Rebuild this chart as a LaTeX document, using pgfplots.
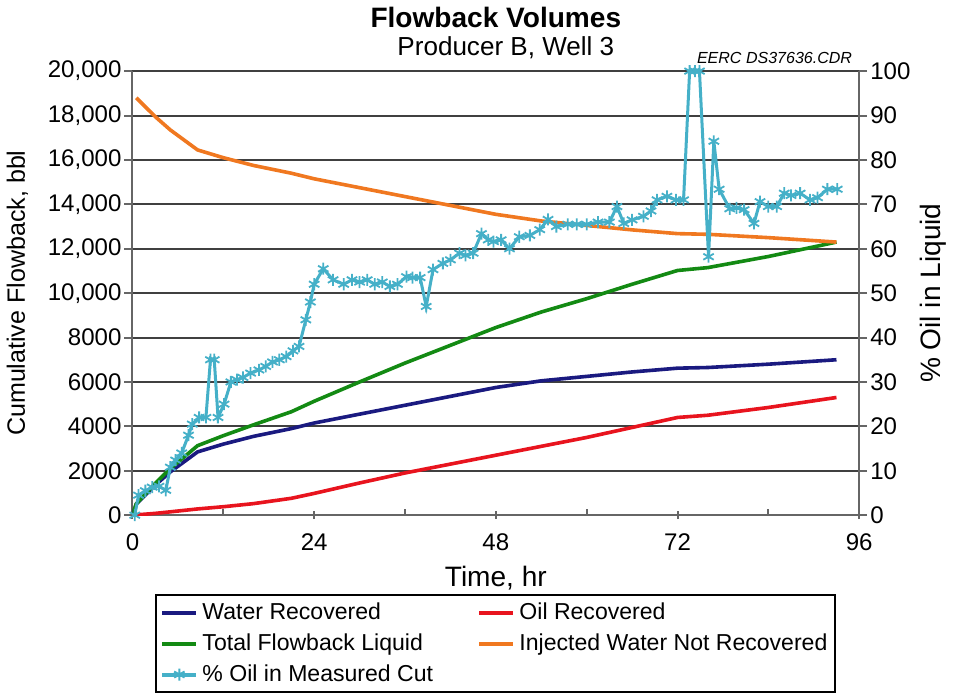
\documentclass[border=0pt]{standalone}
\usepackage{pgfplots}
\pgfplotsset{compat=1.18}
\usepackage{fontspec}
\setmainfont{Liberation Sans}

\definecolor{cwater}{HTML}{1A1A80}
\definecolor{coil}{HTML}{E8141E}
\definecolor{ctotal}{HTML}{138A13}
\definecolor{cinj}{HTML}{F07820}
\definecolor{ccut}{HTML}{45B0C8}

\begin{document}
\begin{tikzpicture}
  \pgfplotsset{
    common/.style={
      scale only axis,
      width=362.5pt, height=221.5pt,
      xmin=0, xmax=96,
      tick label style={font=\fontsize{12}{14}\selectfont},
      /pgf/number format/assume math mode=true,
      scaled ticks=false,
      tick style={black!60, line width=1pt},
      major tick length=4pt,
      axis line style={black!60, line width=1pt},
    },
  }
  \begin{axis}[
      common,
      name=main,
      axis y line*=left,
      axis x line*=bottom,
      ymin=0, ymax=20000,
      ytick={0,2000,4000,6000,8000,10000,12000,14000,16000,18000,20000},
      yticklabels={0,2000,4000,6000,8000,{10,000},{12,000},{14,000},{16,000},{18,000},{20,000}},
      xtick={0,24,48,72,96},
      minor xtick={12,36,60,84},
      minor tick length=3pt,
      tick align=center,
      ytick style={xshift=-2pt},
      every minor tick/.append style={yshift=1.5pt},
      xticklabel style={yshift=-3.5pt},
      ymajorgrids,
      grid style={black!75, line width=1pt},
      xlabel={Time, hr},
      ylabel={Cumulative Flowback, bbl},
      xlabel style={font=\fontsize{14}{16}\selectfont, yshift=-1pt},
      ylabel style={font=\fontsize{12.5}{15}\selectfont, yshift=3pt},
      legend style={at={(0.5,-0.178)}, anchor=north, legend columns=2,
        font=\fontsize{11.5}{13}\selectfont, draw=black, line width=1pt,
        /tikz/every even column/.append style={column sep=20pt},
        row sep=1.5pt, inner sep=2pt},
      legend cell align=left,
      legend image post style={line width=2pt},
    ]
    \addplot[cwater, line width=1.8pt] coordinates {
      (0,0) (0.5,500) (3,1350) (5,1950) (8.6,2850) (12,3200) (16,3550) (21,3900)
      (24,4150) (30,4550) (36,4950) (42,5350) (48,5750) (54,6050) (60,6250)
      (66,6450) (72,6620) (76,6650) (84,6800) (93,7000)
    };
    \addlegendentry{Water Recovered}
    \addplot[coil, line width=1.8pt] coordinates {
      (0,0) (3,80) (5,150) (8.6,280) (12,380) (16,520) (21,760) (24,980)
      (30,1450) (36,1900) (42,2300) (48,2700) (54,3100) (60,3500) (66,3950)
      (72,4400) (76,4500) (84,4850) (93,5300)
    };
    \addlegendentry{Oil Recovered}
    \addplot[ctotal, line width=1.8pt] coordinates {
      (0,0) (0.5,510) (3,1430) (5,2100) (8.6,3130) (12,3580) (16,4070) (21,4660)
      (24,5130) (30,6000) (36,6850) (42,7650) (48,8450) (54,9150) (60,9750)
      (66,10400) (72,11020) (76,11150) (84,11650) (93,12300)
    };
    \addlegendentry{Total Flowback Liquid}
    \addplot[cinj, line width=1.8pt] coordinates {
      (0.5,18800) (3,17950) (5,17350) (8.6,16450) (12,16100) (16,15750) (21,15400)
      (24,15150) (30,14750) (36,14350) (42,13950) (48,13550) (54,13250) (60,13050)
      (66,12850) (72,12680) (76,12650) (84,12500) (93,12300)
    };
    \addlegendentry{Injected Water Not Recovered}
    \addlegendimage{ccut, line width=1.5pt, mark=asterisk, mark size=3pt, mark options={line width=1pt}}
    \addlegendentry{\% Oil in Measured Cut}
  \end{axis}
  \begin{axis}[
      common,
      axis y line*=right,
      axis x line=none,
      ymin=0, ymax=100,
      ytick={0,10,...,100},
      tick align=center,
      ytick style={xshift=2pt},
      ylabel={\% Oil in Liquid},
      ylabel style={font=\fontsize{14}{16}\selectfont, yshift=2pt},
    ]
    \addplot[ccut, line width=1.5pt, mark=asterisk, mark size=3pt, mark options={line width=0.9pt}] coordinates {
      (0.3,0) (0.8,4.5) (1.7,5.5) (2.6,6.3) (3.5,6.5) (4.4,5.6) (5.0,10.8) (5.7,12.4)
      (6.5,14) (7.4,18) (7.9,20.5) (8.8,22) (9.7,22) (10.3,35) (10.8,35) (11.3,22)
      (12.1,25) (13.0,30) (13.8,30.5) (14.6,31) (15.6,32) (16.7,32.7) (17.6,33.5)
      (18.5,34.5) (19.4,35) (20.3,35.7) (21.2,37) (22.0,38) (22.9,44) (23.5,48)
      (24,52) (25.2,55.5) (26.5,53) (27.9,52) (29,53) (30,52.5) (31,53) (32,52)
      (33,52.5) (34,51.5) (35,52) (36.2,53.7) (37,53.5) (38,53.5) (38.8,47)
      (39.7,55.3) (41.0,56.7) (42,57.5) (43.2,59) (44,58.5) (45,59) (46.1,63.4)
      (47,62) (47.7,61.6) (48.7,62) (49.8,60) (51.1,62.7) (52.5,63) (53.8,64.3)
      (54.9,66.6) (56,65) (57.5,65.5) (58.7,65.5) (60,65.5) (61.5,66) (63,66)
      (64,69.5) (64.9,65.7) (66,66.5) (67.5,67.3) (68.5,68.5) (69.3,71) (70.6,71.8)
      (71.8,71) (72.8,71) (73.6,100) (74.3,100) (74.9,100) (76.1,58.2) (76.8,84.2)
      (77.5,73.4) (78.9,69) (79.8,69.2) (80.8,68.8) (82.1,65.7) (82.9,70.6) (84,69.5)
      (85.1,69.5) (86.1,72.5) (87,72) (88.2,72.5) (89.5,71) (90.5,71.5) (91.8,73.4)
      (93.1,73.4)
    };
  \end{axis}
  \node[font=\fontsize{14}{16}\selectfont\bfseries] at ([yshift=27pt]main.north) {Flowback Volumes};
  \node[font=\fontsize{13}{15}\selectfont] at ([xshift=5pt,yshift=11.5pt]main.north) {Producer B, Well 3};
  \node[anchor=base east, font=\fontsize{8}{9}\selectfont\itshape] at ([yshift=4pt]main.north east) {EERC DS37636.CDR};
\end{tikzpicture}
\end{document}
